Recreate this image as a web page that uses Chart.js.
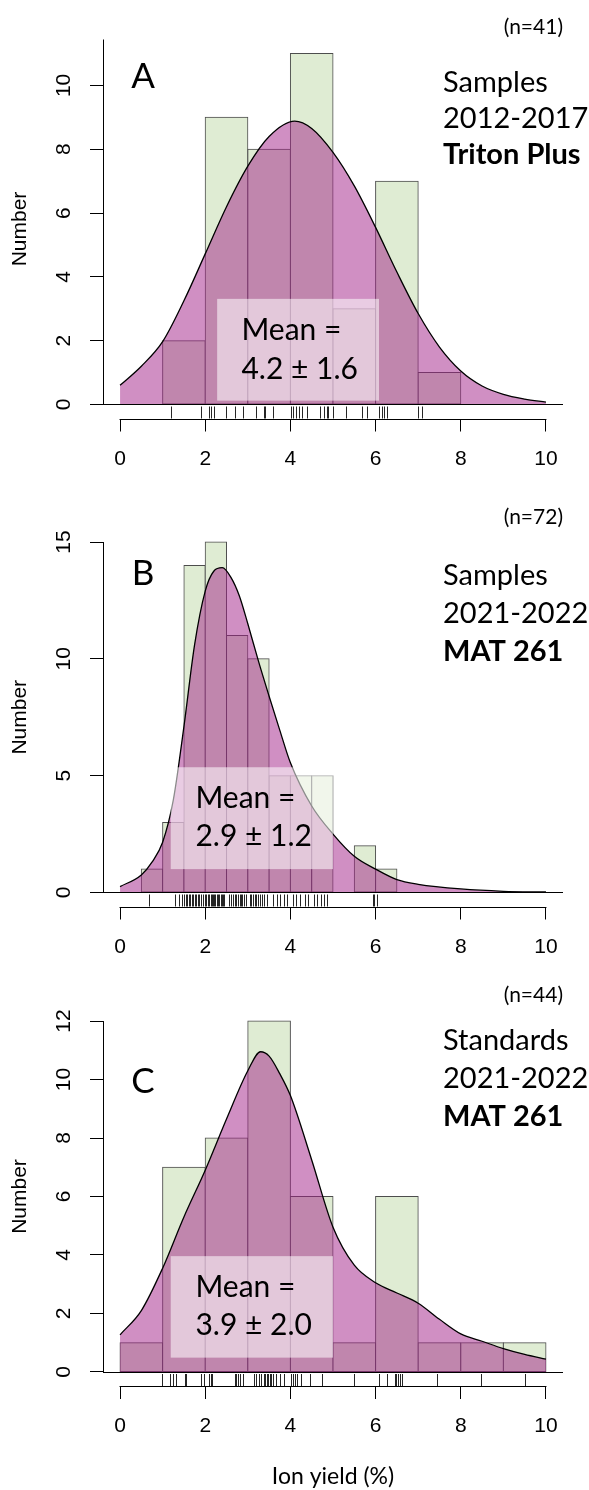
<!DOCTYPE html>
<html>
<head>
<meta charset="utf-8">
<script src="https://cdn.jsdelivr.net/npm/chart.js@4.4.0/dist/chart.umd.min.js"></script>
<style>
  body { margin: 0; background: #fff; }
  canvas { display: block; }
</style>
</head>
<body>
<canvas id="chartA" width="589" height="480"></canvas>
<canvas id="chartB" width="589" height="480"></canvas>
<canvas id="chartC" width="589" height="530"></canvas>
<script>
// ---- data ----
var xTicks = [0, 2, 4, 6, 8, 10];

// A: samples 2012-2017, Triton Plus
var binsA = [1, 2, 3, 4, 5, 6, 7, 8];
var countsA = [2, 9, 8, 11, 3, 7, 1];
var densXA = [0, 0.5, 1, 1.5, 2, 2.5, 3, 3.5, 4.1, 4.5, 5, 5.5, 6, 6.5, 7, 7.5, 8, 8.5, 9, 9.5, 10];
var densYA = [0.6, 1.2, 1.97, 3.25, 4.72, 6.2, 7.47, 8.4, 8.88, 8.65, 7.9, 6.85, 5.55, 4.15, 2.85, 1.8, 1.05, 0.58, 0.32, 0.17, 0.07];
var rugA = [1.2, 1.9, 2.1, 2.14, 2.2, 2.49, 2.69, 2.88, 3.2, 3.38, 3.41, 3.59, 4.01, 4.06, 4.14, 4.2, 4.28,
            4.38, 4.69, 4.78, 4.85, 4.89, 4.99, 5.3, 5.69, 5.79, 6.08, 6.14, 6.19, 6.27, 7.0, 7.09];
var yTicksA = [0, 2, 4, 6, 8, 10];

// B: samples 2021-2022, MAT 261
var binsB = [0.5, 1, 1.5, 2, 2.5, 3, 3.5, 4, 4.5, 5, 5.5, 6, 6.5];
var countsB = [1, 3, 14, 15, 11, 10, 5, 5, 5, 0, 2, 1];
var densXB = [0, 0.5, 0.75, 1, 1.25, 1.5, 1.75, 2, 2.2, 2.4, 2.6, 2.8, 3, 3.25, 3.5, 3.75, 4, 4.5, 5, 5.5, 6, 6.5, 7, 8, 9, 10];
var densYB = [0.25, 0.75, 1.3, 2.15, 3.95, 7.1, 10.6, 12.9, 13.75, 13.9, 13.5, 12.7, 11.5, 9.9, 8.4, 6.95, 5.55, 3.7, 2.5, 1.55, 1.0, 0.55, 0.35, 0.15, 0.05, 0.02];
var rugB = [0.69, 1.30, 1.38, 1.45,
            1.51, 1.55, 1.58, 1.62, 1.65, 1.68, 1.72, 1.76, 1.79, 1.83, 1.86, 1.91, 1.95, 1.99,
            2.03, 2.06, 2.09, 2.13, 2.16, 2.18, 2.21, 2.23, 2.27, 2.30, 2.32, 2.37, 2.40, 2.42, 2.45,
            2.55, 2.61, 2.65, 2.70, 2.73, 2.77, 2.81, 2.85, 2.87, 2.90, 2.96,
            3.05, 3.08, 3.12, 3.16, 3.20, 3.24, 3.28, 3.33, 3.37, 3.45,
            3.58, 3.68, 3.75, 3.86, 3.92, 4.05, 4.14, 4.22, 4.35, 4.42,
            4.55, 4.63, 4.72, 4.80, 4.87, 5.93, 5.97, 6.03];
var yTicksB = [0, 5, 10, 15];

// C: standards 2021-2022, MAT 261
var binsC = [0, 1, 2, 3, 4, 5, 6, 7, 8, 9, 10];
var countsC = [1, 7, 8, 12, 6, 1, 6, 1, 1, 1];
var densXC = [0, 0.5, 1, 1.5, 2, 2.5, 3, 3.3, 3.5, 3.75, 4, 4.5, 5, 5.5, 6, 6.5, 7, 7.5, 8, 8.5, 9, 9.5, 10];
var densYC = [1.27, 2.1, 3.55, 5.3, 6.9, 8.65, 10.3, 10.95, 10.8, 10.2, 9.45, 7.25, 4.95, 3.65, 3.05, 2.7, 2.35, 1.8, 1.3, 1.05, 0.8, 0.6, 0.44];
var rugC = [0.99, 1.18, 1.24, 1.32, 1.52, 1.54, 1.91, 1.97, 2.10, 2.14, 2.16, 2.69, 2.73, 2.77, 2.81, 2.89,
            3.15, 3.20, 3.26, 3.32, 3.37, 3.41, 3.44, 3.47, 3.51, 3.55, 3.59, 3.67, 3.75, 3.85,
            4.02, 4.06, 4.10, 4.16, 4.26, 4.47, 4.75, 5.50, 6.09, 6.26, 6.45, 6.49, 6.53, 6.57, 6.61,
            7.44, 8.47, 9.50];
var yTicksC = [0, 2, 4, 6, 8, 10, 12];

// ---- layout of each panel (pixels are local to each canvas) ----
var panels = [
  { id: 'chartA', bins: binsA, counts: countsA, dx: densXA, dy: densYA, rug: rugA, yTicks: yTicksA,
    yMin: -0.44, yMax: 11.44, yLineTop: 11.44, top: 39.5, xAxisH: 61.5,
    letter: 'A', letterY: 88, n: '(n=41)', nY: 27, lines: ['Samples', '2012-2017', 'Triton Plus'], linesY: 92, lineGap: 36,
    box: [2.28, 6.08, 0.12, 3.31], meanX: 2.85, meanY: [2.02, 0.79], mean: '4.2 \u00b1 1.6', xTitle: '' },
  { id: 'chartB', bins: binsB, counts: countsB, dx: densXB, dy: densYB, rug: rugB, yTicks: yTicksB,
    yMin: -0.6, yMax: 15.6, yLineTop: 15, top: 48, xAxisH: 53.5,
    letter: 'B', letterY: 105, n: '(n=72)', nY: 37, lines: ['Samples', '2021-2022', 'MAT 261'], linesY: 105, lineGap: 38,
    box: [1.19, 5.0, 1.0, 5.36], meanX: 1.77, meanY: [3.61, 1.97], mean: '2.9 \u00b1 1.2', xTitle: '' },
  { id: 'chartC', bins: binsC, counts: countsC, dx: densXC, dy: densYC, rug: rugC, yTicks: yTicksC,
    yMin: -0.48, yMax: 12.48, yLineTop: 12, top: 47, xAxisH: 104,
    letter: 'C', letterY: 133, n: '(n=44)', nY: 35.5, lines: ['Standards', '2021-2022', 'MAT 261'], linesY: 90, lineGap: 38,
    box: [1.19, 5.0, 0.49, 3.96], meanX: 1.77, meanY: [2.58, 1.25], mean: '3.9 \u00b1 2.0', xTitle: 'Ion yield (%)' }
];

var tickFont = { family: "'Liberation Sans', Arial, sans-serif", size: 21 };

function px(v) { return Math.round(v) + 0.5; }

// axes lines, rug, mean box and labels, drawn through the chart scales
function panelPlugin(p) {
  return {
    id: 'panel' + p.letter,
    afterDatasetsDraw: function (chart) {
      var ctx = chart.ctx, area = chart.chartArea;
      var xs = chart.scales.x, ys = chart.scales.y;
      var y0 = px(ys.getPixelForValue(0));
      ctx.save();
      ctx.strokeStyle = '#000';
      ctx.lineWidth = 1;
      ctx.beginPath();
      // zero line across the plot
      ctx.moveTo(area.left, y0); ctx.lineTo(area.right, y0);
      // y axis line
      ctx.moveTo(px(area.left), y0); ctx.lineTo(px(area.left), ys.getPixelForValue(p.yLineTop));
      // x axis line from first to last tick
      var yb = px(area.bottom);
      ctx.moveTo(xs.getPixelForValue(xTicks[0]) - 0.5, yb);
      ctx.lineTo(xs.getPixelForValue(xTicks[xTicks.length - 1]) + 0.5, yb);
      ctx.stroke();

      // rug
      ctx.strokeStyle = 'rgba(0,0,0,0.85)';
      ctx.beginPath();
      p.rug.forEach(function (v) {
        var x = px(xs.getPixelForValue(v));
        ctx.moveTo(x, area.bottom);
        ctx.lineTo(x, area.bottom - 12);
      });
      ctx.stroke();

      // mean box
      var bx1 = xs.getPixelForValue(p.box[0]), bx2 = xs.getPixelForValue(p.box[1]);
      var by1 = ys.getPixelForValue(p.box[3]), by2 = ys.getPixelForValue(p.box[2]);
      ctx.fillStyle = 'rgba(255,255,255,0.55)';
      ctx.fillRect(bx1, by1, bx2 - bx1, by2 - by1);
      ctx.fillStyle = '#000';
      ctx.font = '30px Lato';
      ctx.textAlign = 'left';
      ctx.textBaseline = 'alphabetic';
      ctx.fillText('Mean =', xs.getPixelForValue(p.meanX), ys.getPixelForValue(p.meanY[0]));
      ctx.fillText(p.mean, xs.getPixelForValue(p.meanX), ys.getPixelForValue(p.meanY[1]));
      ctx.restore();
    },
    afterDraw: function (chart) {
      var ctx = chart.ctx;
      ctx.save();
      ctx.fillStyle = '#000';
      ctx.textBaseline = 'alphabetic';
      ctx.textAlign = 'center';
      ctx.font = '35px Lato';
      ctx.fillText(p.letter, 143, p.letterY);
      ctx.textAlign = 'right';
      ctx.textBaseline = 'middle';
      ctx.font = '21px Lato';
      ctx.fillText(p.n, chart.chartArea.right, p.nY);
      ctx.textAlign = 'left';
      ctx.textBaseline = 'alphabetic';
      p.lines.forEach(function (t, i) {
        ctx.font = (i === 2 ? 'bold ' : '') + '29px Lato';
        ctx.fillText(t, 443, p.linesY + i * p.lineGap);
      });
      ctx.restore();
    }
  };
}

function BuildPanel(p) {
  var bars = [];
  for (var i = 0; i < p.counts.length; i++) {
    if (p.counts[i] > 0) bars.push({ x: (p.bins[i] + p.bins[i + 1]) / 2, y: p.counts[i] });
  }
  var dens = p.dx.map(function (x, i) { return { x: x, y: p.dy[i] }; });
  var ctx = document.getElementById(p.id).getContext('2d');
  return new Chart(ctx, {
    type: 'bar',
    data: {
      datasets: [{
        type: 'bar',
        data: bars,
        backgroundColor: '#dfecd3',
        borderColor: '#4d4d4d',
        borderWidth: 1,
        borderSkipped: false,
        inflateAmount: 0.5,
        barPercentage: 1,
        categoryPercentage: 1,
        grouped: false,
        order: 2
      }, {
        type: 'line',
        data: dens,
        borderColor: '#000',
        borderWidth: 1.3,
        backgroundColor: 'rgba(161, 31, 135, 0.5)',
        fill: 'origin',
        pointRadius: 0,
        cubicInterpolationMode: 'monotone',
        order: 1
      }]
    },
    options: {
      responsive: false,
      animation: false,
      devicePixelRatio: 1,
      layout: { padding: { top: p.top, right: 26, bottom: 0, left: 0 } },
      plugins: { legend: { display: false }, tooltip: { enabled: false } },
      scales: {
        x: {
          type: 'linear', min: -0.4, max: 10.4, bounds: 'data', offset: false,
          afterBuildTicks: function (s) { s.ticks = xTicks.map(function (v) { return { value: v }; }); },
          afterFit: function (s) { s.height = p.xAxisH; },
          grid: { drawOnChartArea: false, tickLength: 13, color: '#000', lineWidth: 1, offset: false },
          border: { display: false },
          ticks: { color: '#000', font: tickFont, padding: 15, maxRotation: 0, autoSkip: false,
                   callback: function (v) { return String(v); } },
          title: { display: p.xTitle !== '', text: p.xTitle, color: '#000',
                   font: { family: 'Lato', size: 23 }, padding: { top: 0, bottom: 0 } }
        },
        y: {
          type: 'linear', min: p.yMin, max: p.yMax, bounds: 'data',
          afterBuildTicks: function (s) { s.ticks = p.yTicks.map(function (v) { return { value: v }; }); },
          afterFit: function (s) { s.width = 103; },
          grid: { drawOnChartArea: false, tickLength: 13, color: '#000', lineWidth: 1 },
          border: { display: false },
          ticks: { color: '#000', font: tickFont, padding: 14, minRotation: 90, maxRotation: 90,
                   crossAlign: 'center', autoSkip: false,
                   callback: function (v) { return String(v); } },
          title: { display: true, text: 'Number', color: '#000',
                   font: { family: "'Liberation Sans', Arial, sans-serif", size: 21 }, padding: { top: 8, bottom: 0 } }
        }
      }
    },
    plugins: [panelPlugin(p)]
  });
}

var charts = panels.map(BuildPanel);
</script>
</body>
</html>
